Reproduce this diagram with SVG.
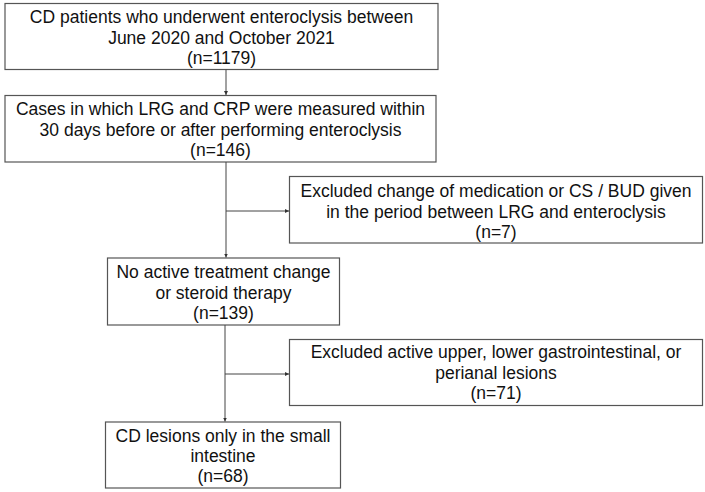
<svg xmlns="http://www.w3.org/2000/svg" width="705" height="492" viewBox="0 0 705 492">
<defs>
<marker id="ah" viewBox="0 0 6 6" refX="6" refY="3" markerWidth="4" markerHeight="4" orient="auto" markerUnits="userSpaceOnUse">
<path d="M0,0 L6,3 L0,6 z" fill="#333"/>
</marker>
<style>
.box{fill:#fff;stroke:#555;stroke-width:1.2}
.t{font-family:"Liberation Sans",Arial,sans-serif;font-size:17.5px;fill:#111;text-anchor:middle}
.c{fill:none;stroke:#444;stroke-width:1;marker-end:url(#ah)}
</style>
</defs>
<rect width="705" height="492" fill="#fff"/>
<g id="n1">
<rect class="box" x="5" y="3.5" width="433" height="66"/>
<text class="t" x="221.5" y="23">CD patients who underwent enteroclysis between</text>
<text class="t" x="221.5" y="44">June 2020 and October 2021</text>
<text class="t" x="221.5" y="64">(n=1179)</text>
</g>
<g id="n2">
<rect class="box" x="5" y="95.5" width="431" height="66.5"/>
<text class="t" x="220.5" y="115">Cases in which LRG and CRP were measured within</text>
<text class="t" x="220.5" y="136">30 days before or after performing enteroclysis</text>
<text class="t" x="220.5" y="156">(n=146)</text>
</g>
<g id="n3">
<rect class="box" x="289.5" y="176.5" width="413" height="66.5"/>
<text class="t" x="496" y="197">Excluded change of medication or CS / BUD given</text>
<text class="t" x="496" y="218">in the period between LRG and enteroclysis</text>
<text class="t" x="496" y="238">(n=7)</text>
</g>
<g id="n4">
<rect class="box" x="107.5" y="258" width="232" height="67"/>
<text class="t" x="223.5" y="278">No active treatment change</text>
<text class="t" x="223.5" y="299">or steroid therapy</text>
<text class="t" x="223.5" y="319">(n=139)</text>
</g>
<g id="n5">
<rect class="box" x="289.5" y="339.5" width="413" height="66"/>
<text class="t" x="496" y="358">Excluded active upper, lower gastrointestinal, or</text>
<text class="t" x="496" y="379">perianal lesions</text>
<text class="t" x="496" y="399">(n=71)</text>
</g>
<g id="n6">
<rect class="box" x="105.5" y="422" width="235" height="66"/>
<text class="t" x="223" y="442">CD lesions only in the small</text>
<text class="t" x="223" y="462">intestine</text>
<text class="t" x="223" y="482">(n=68)</text>
</g>
<g id="connectors">
<path class="c" d="M226,69.5 V95"/>
<path class="c" d="M226,162 V257.5"/>
<path class="c" d="M226,211 H289"/>
<path class="c" d="M225,325 V421.5"/>
<path class="c" d="M225,374 H289"/>
</g>
</svg>
